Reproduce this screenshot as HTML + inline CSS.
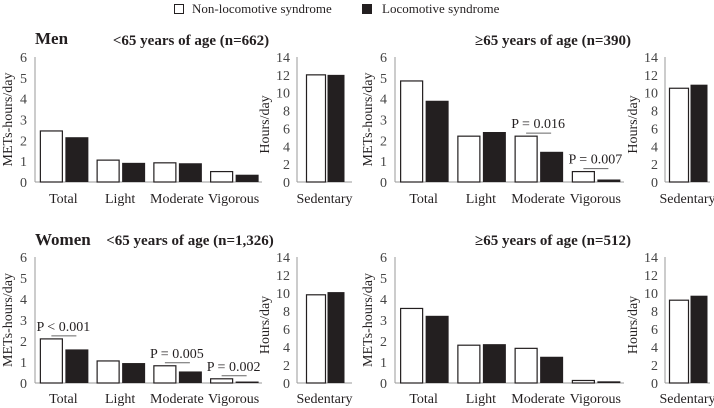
<!DOCTYPE html>
<html><head><meta charset="utf-8"><style>
body{margin:0;background:#fff;}
svg{display:block;font-family:"Liberation Serif",serif;}
</style></head><body>
<svg id="c" width="714" height="408" viewBox="0 0 714 408">
<g>
<rect x="174.5" y="4.5" width="9" height="9" fill="#fff" stroke="#231f20"/>
<text x="192" y="13" font-size="13" fill="#231f20">Non-locomotive  syndrome</text>
<rect x="362" y="4" width="10" height="10" fill="#231f20"/>
<text x="382" y="13" font-size="13" fill="#231f20">Locomotive  syndrome</text>
</g>
<text x="35" y="44" font-size="17" font-weight="bold" fill="#231f20">Men</text>
<text x="35" y="245" font-size="17" font-weight="bold" fill="#231f20">Women</text>
</svg>
<script>
const categories = ["Total","Light","Moderate","Vigorous"];
const menYoungNon = [2.45,1.05,0.92,0.5];
const menYoungLoco = [2.15,0.92,0.9,0.35];
const menOldNon = [4.85,2.2,2.2,0.5];
const menOldLoco = [3.9,2.4,1.45,0.12];
const womenYoungNon = [2.1,1.05,0.82,0.2];
const womenYoungLoco = [1.6,0.95,0.55,0.07];
const womenOldNon = [3.55,1.8,1.65,0.12];
const womenOldLoco = [3.2,1.85,1.25,0.08];
const sedentaryNon = [12,10.5,9.8,9.2];
const sedentaryLoco = [12,10.9,10.1,9.7];
const metTicks = [0,1,2,3,4,5,6];
const hourTicks = [0,2,4,6,8,10,12,14];
const panelTitles = ["<65 years of age (n=662)","≥65 years of age (n=390)","<65 years of age (n=1,326)","≥65 years of age (n=512)"];
const pLabels = [[],[null,null,"P = 0.016","P = 0.007"],["P < 0.001",null,"P = 0.005","P = 0.002"],[]];

const svg = document.getElementById('c');
const NS = 'http://www.w3.org/2000/svg';
function mk(tag, attrs, parent){const e=document.createElementNS(NS,tag);for(const k in attrs)e.setAttribute(k,attrs[k]);(parent||svg).appendChild(e);return e;}
const INK='#231f20';
const FS=14;
const panels=[
 {ax:35,axEnd:262,sx:297,sxEnd:352,y0:182,y6:57,non:menYoungNon,loco:menYoungLoco,labY:203,titleX:191,titleY:45,name:'men-under-65'},
 {ax:395,axEnd:624,sx:665,sxEnd:710,y0:182,y6:57,non:menOldNon,loco:menOldLoco,labY:203,titleX:553,titleY:45,name:'men-65-plus'},
 {ax:35,axEnd:262,sx:297,sxEnd:352,y0:383,y6:257,non:womenYoungNon,loco:womenYoungLoco,labY:403,titleX:190,titleY:245,name:'women-under-65'},
 {ax:395,axEnd:624,sx:665,sxEnd:710,y0:383,y6:257,non:womenOldNon,loco:womenOldLoco,labY:403,titleX:553,titleY:245,name:'women-65-plus'}
];
panels.forEach((p,pi)=>{
 const g=mk('g',{});
 
 
 const yM=v=>p.y0-(p.y0-p.y6)*v/6;
 const yH=v=>p.y0-(p.y0-p.y6)*v/14;
 const t=mk('text',{x:p.titleX,y:p.titleY,'font-size':15,'font-weight':'bold','text-anchor':'middle',fill:INK},g);
 t.textContent=panelTitles[pi];
 
 
 const ya=mk('line',{x1:p.ax,x2:p.ax,y1:p.y6,y2:p.y0,stroke:'#999','stroke-width':1},g);
 
 
 const xa=mk('line',{x1:p.ax,x2:p.axEnd,y1:p.y0,y2:p.y0,stroke:'#999','stroke-width':1},g);
 
 
 metTicks.forEach(v=>{const tt=mk('text',{x:p.ax-8,y:yM(v)+5,'font-size':FS,'text-anchor':'end',fill:'#444'},g);tt.textContent=v;
  
  });
 const yt=mk('text',{transform:`translate(${p.ax-23},${(p.y0+p.y6)/2}) rotate(-90)`,'font-size':FS,'text-anchor':'middle',fill:INK},g);
 yt.textContent='METs-hours/day';
 
 
 const gw=(p.axEnd-p.ax)/4;
 categories.forEach((c,i)=>{
  const cx=p.ax+gw*(i+0.5);
  const b1=mk('rect',{x:cx-23,y:yM(p.non[i]),width:22,height:p.y0-yM(p.non[i]),fill:'#fff',stroke:INK,'stroke-width':1.2},g);
  
  
  const b2=mk('rect',{x:cx+2,y:yM(p.loco[i]),width:23,height:p.y0-yM(p.loco[i]),fill:INK},g);
  
  
  const l=mk('text',{x:cx,y:p.labY,'font-size':FS,'text-anchor':'middle',fill:INK},g);
  l.textContent=c;
  
  
  const pl=pLabels[pi][i];
  if(pl){
   const top=yM(Math.max(p.non[i],p.loco[i]));
   const pt=mk('text',{x:cx,y:top-8,'font-size':FS,'text-anchor':'middle',fill:INK},g);
   pt.textContent=pl;
   
   
   const ln=mk('line',{x1:cx-12,x2:cx+13,y1:top-3,y2:top-3,stroke:'#666','stroke-width':1},g);
   
   
  }
 });
 const sa=mk('line',{x1:p.sx,x2:p.sx,y1:p.y6,y2:p.y0,stroke:'#999'},g);
 
 
 const sxa=mk('line',{x1:p.sx,x2:p.sxEnd,y1:p.y0,y2:p.y0,stroke:'#999'},g);
 
 
 hourTicks.forEach(v=>{const tt=mk('text',{x:p.sx-7,y:yH(v)+5,'font-size':FS,'text-anchor':'end',fill:'#444'},g);tt.textContent=v;
  
  });
 const ht=mk('text',{transform:`translate(${p.sx-28},${(p.y0+p.y6)/2+5}) rotate(-90)`,'font-size':FS,'text-anchor':'middle',fill:INK},g);
 ht.textContent='Hours/day';
 
 
 const scx=p.sx+(p.sxEnd-p.sx)/2;
 const s1=mk('rect',{x:scx-18,y:yH(sedentaryNon[pi]),width:19,height:p.y0-yH(sedentaryNon[pi]),fill:'#fff',stroke:INK,'stroke-width':1.2},g);
 
 
 const s2=mk('rect',{x:scx+3,y:yH(sedentaryLoco[pi]),width:17,height:p.y0-yH(sedentaryLoco[pi]),fill:INK},g);
 
 
 const sl=mk('text',{x:scx,y:p.labY,'font-size':FS,'text-anchor':'middle',fill:INK},g);
 sl.textContent='Sedentary';
 
 
});
</script>
</body></html>
